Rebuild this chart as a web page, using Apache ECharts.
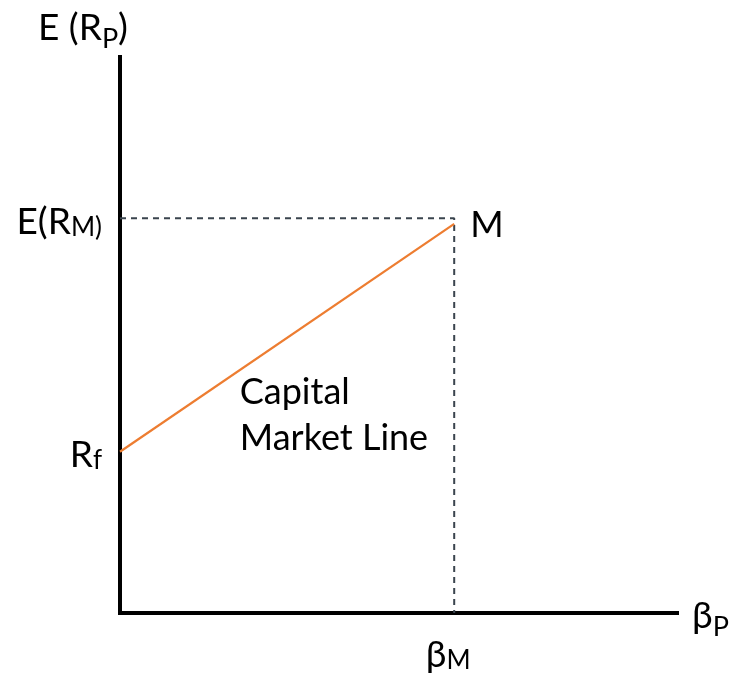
<!DOCTYPE html>
<html>
<head>
<meta charset="utf-8">
<script src="https://cdn.jsdelivr.net/npm/echarts@6/dist/echarts.min.js"></script>
<style>
  html, body { margin: 0; padding: 0; background: #fff; }
  #main { width: 734px; height: 673px; }
</style>
</head>
<body>
<div id="main"></div>
<script>
// data (x: beta 0..1, y: expected return 0..10)
var rf = 2.9;
var betaM = 0.6;
var erM = 7.1;
var cmlPoints = [[0, rf], [betaM, 7.0]];
var guidePoints = [[0, erM], [betaM, erM], [betaM, 0]];
var textPos = [0.215, 3.55];

var font = 'Lato';
var rich = {
  n: { fontFamily: font, fontSize: 37, color: '#000', lineHeight: 44, verticalAlign: 'bottom' },
  s: { fontFamily: font, fontSize: 26, color: '#000', lineHeight: 36, verticalAlign: 'bottom' },
  d: { fontFamily: font, fontSize: 27, color: '#000', verticalAlign: 'bottom', padding: [0, 0, -6, 0] },
  c: { fontFamily: font, fontSize: 36, color: '#000', lineHeight: 46 }
};

var chart = echarts.init(document.getElementById('main'));
chart.setOption({
  animation: false,
  grid: { left: 120, right: 57, top: 57, bottom: 60 },
  xAxis: {
    type: 'value', min: 0, max: 1,
    axisLine: { lineStyle: { color: '#000', width: 4, cap: 'square' } },
    axisTick: { show: false }, axisLabel: { show: false }, splitLine: { show: false },
    name: '{n|β}{d|P}', nameLocation: 'end', nameGap: 15,
    nameTextStyle: { rich: rich, color: '#000' }
  },
  yAxis: {
    type: 'value', min: 0, max: 10,
    axisLine: { lineStyle: { color: '#000', width: 4, cap: 'square' } },
    axisTick: { show: false }, axisLabel: { show: false }, splitLine: { show: false },
    name: '{n|E (R}{d|P}{n|)}', nameLocation: 'end', nameGap: 10,
    nameTextStyle: { rich: rich, color: '#000', align: 'center', padding: [0, 74, 0, 0] }
  },
  series: [
    {
      type: 'line',
      data: guidePoints,
      symbol: 'none',
      lineStyle: { color: '#3a444e', width: 2, type: [6, 5] },
      z: 1
    },
    {
      type: 'line',
      data: cmlPoints,
      symbol: 'none',
      lineStyle: { color: '#ED7D31', width: 2.2 },
      z: 2,
      endLabel: {
        show: true, formatter: 'M', distance: 16,
        fontFamily: font, fontSize: 36, color: '#000', offset: [0, 2]
      }
    },
    {
      type: 'scatter',
      symbolSize: 0,
      silent: true,
      itemStyle: { opacity: 1 },
      data: [
        { value: [0, erM], label: { position: 'left', distance: 18, formatter: '{n|E(R}{s|M)}' } },
        { value: [0, rf], label: { position: 'left', distance: 18, formatter: '{n|R}{s|f}' } },
        { value: [betaM, 0], label: { position: 'bottom', distance: 17, offset: [-6, 0], formatter: '{n|β}{s|M}' } },
        { value: textPos, label: { position: 'right', distance: 0, align: 'left', lineHeight: 46,
          formatter: '{c|Capital}\n{c|Market Line}' } }
      ],
      label: { show: true, color: '#000', opacity: 1, rich: rich }
    }
  ]
});
</script>
</body>
</html>
